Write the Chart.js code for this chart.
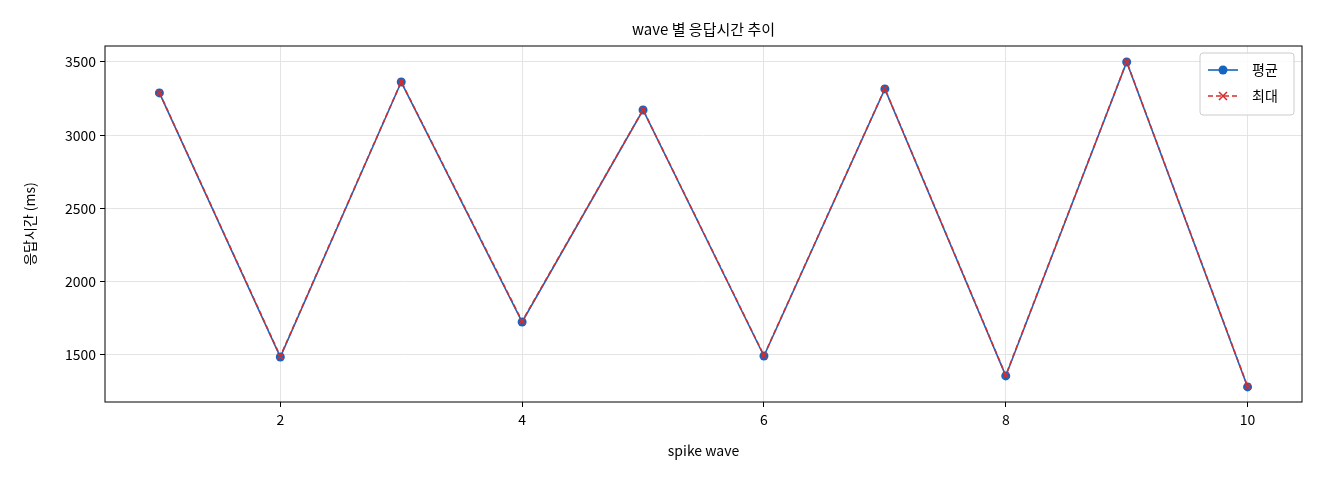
<!DOCTYPE html>
<html><head><meta charset="utf-8">
<script src="https://cdn.jsdelivr.net/npm/chart.js@4"></script>
<style>body{margin:0;background:#fff}#w{width:1320px;height:480px}</style>
</head><body><div id="w"><canvas id="c"></canvas></div>
<script>
const waves=[1,2,3,4,5,6,7,8,9,10];
const avgMs=[3289,1486,3363,1725,3172,1493,3316,1357,3500,1282];
const maxMs=[3291,1490,3365,1730,3174,1496,3318,1361,3502,1285];
const xTicks=[2,4,6,8,10];
const yTicks=[1500,2000,2500,3000,3500];
const F='"Noto Sans CJK KR","DejaVu Sans",sans-serif';
const BLUE='#1565c0',RED='#d32f2f';
const deco={id:'deco',afterDraw(ch){const c=ch.ctx,a=ch.chartArea;c.save();
c.strokeStyle='#000';c.lineWidth=1;c.strokeRect(a.left,a.top,a.right-a.left,a.bottom-a.top);
c.fillStyle='#000';c.font='15px '+F;c.textAlign='center';c.textBaseline='middle';
c.fillText('wave 별 응답시간 추이',(a.left+a.right)/2,29);
c.font='14px '+F;
c.fillText('spike wave',(a.left+a.right)/2,451);
c.save();c.translate(30,(a.top+a.bottom)/2);c.rotate(-Math.PI/2);c.fillText('응답시간 (ms)',0,0);c.restore();
const bx=a.right-102,by=a.top+7,bw=94,bh=62;
c.fillStyle='rgba(255,255,255,0.85)';c.strokeStyle='#ccc';c.beginPath();c.roundRect(bx,by,bw,bh,3);c.fill();c.stroke();
c.font='14px '+F;c.textAlign='left';
c.strokeStyle=BLUE;c.lineWidth=1.6;c.beginPath();c.moveTo(bx+8,by+17);c.lineTo(bx+38,by+17);c.stroke();
c.fillStyle=BLUE;c.beginPath();c.arc(bx+23,by+17,4.5,0,7);c.fill();
c.fillStyle='#000';c.fillText('평균',bx+52,by+17);
c.strokeStyle=RED;c.setLineDash([5,3]);c.beginPath();c.moveTo(bx+8,by+43);c.lineTo(bx+38,by+43);c.stroke();c.setLineDash([]);
c.beginPath();c.moveTo(bx+19,by+39);c.lineTo(bx+27,by+47);c.moveTo(bx+27,by+39);c.lineTo(bx+19,by+47);c.stroke();
c.fillStyle='#000';c.fillText('최대',bx+52,by+43);
c.restore();}};
new Chart(document.getElementById('c'),{type:'line',
data:{datasets:[
{label:'평균',order:1,data:waves.map((x,i)=>({x,y:avgMs[i]})),borderColor:BLUE,backgroundColor:BLUE,borderWidth:1.6,pointRadius:4.5,pointStyle:'circle',pointBorderWidth:0},
{label:'최대',order:0,data:waves.map((x,i)=>({x,y:maxMs[i]})),borderColor:RED,backgroundColor:RED,borderWidth:1.6,borderDash:[5,3],pointRadius:4,pointStyle:'crossRot',pointBorderWidth:1.6}]},
options:{responsive:true,maintainAspectRatio:false,animation:false,
layout:{padding:{top:46,right:18,left:0,bottom:0}},
plugins:{legend:{display:false},tooltip:{enabled:false}},
scales:{
x:{type:'linear',min:0.55,max:10.45,afterBuildTicks(s){s.ticks=xTicks.map(v=>({value:v}))},afterFit(s){s.height=78},
grid:{color:'#e4e4e4',tickColor:'#000',tickLength:5},border:{display:false},
ticks:{color:'#000',font:{family:F,size:14},padding:4,maxRotation:0,callback:v=>String(v)}},
y:{min:1179,max:3609,afterBuildTicks(s){s.ticks=yTicks.map(v=>({value:v}))},afterFit(s){s.width=105},
grid:{color:'#e4e4e4',tickColor:'#000',tickLength:5},border:{display:false},
ticks:{color:'#000',font:{family:F,size:14},padding:4,callback:v=>String(v)}}}},
plugins:[deco]});
</script></body></html>
